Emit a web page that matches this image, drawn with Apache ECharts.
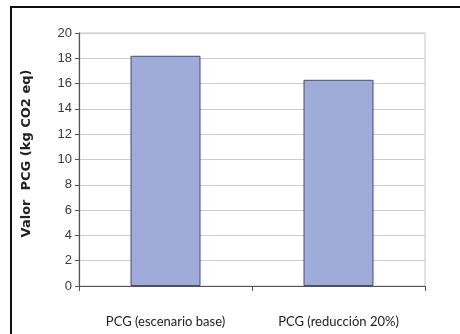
<!DOCTYPE html>
<html>
<head>
<meta charset="utf-8">
<script src="https://cdn.jsdelivr.net/npm/echarts@6/dist/echarts.min.js"></script>
<style>
html,body{margin:0;padding:0;background:#fff;}
#chart{width:460px;height:334px;}
</style>
</head>
<body>
<div id="chart"></div>
<script>
// Global warming potential per scenario
const categories = ['PCG (escenario base)', 'PCG (reducción 20%)'];
const pcgValues = [18.2, 16.3];
const yTicks = [0, 2, 4, 6, 8, 10, 12, 14, 16, 18, 20];
const yAxisTitle = 'Valor  PCG (kg CO2 eq)';

const chart = echarts.init(document.getElementById('chart'), null, { renderer: 'canvas' });

const option = {
  animation: false,
  backgroundColor: '#ffffff',
  grid: { left: 79, right: 35, top: 33, bottom: 48, containLabel: false,
          show: true, borderColor: '#c4c4c4', borderWidth: 1 },
  graphic: [
    {
      type: 'rect',
      shape: { x: 11, y: 7, width: 470, height: 340 },
      style: { fill: 'none', stroke: '#111', lineWidth: 2 },
      silent: true
    }
  ],
  xAxis: {
    type: 'category',
    data: categories,
    axisLine: { lineStyle: { color: '#555', width: 1.2 } },
    axisTick: { show: true, length: 5, lineStyle: { color: '#555' } },
    axisLabel: {
      color: '#222', fontSize: 13, margin: 29,
      fontFamily: 'Lato, "Open Sans", sans-serif'
    }
  },
  yAxis: {
    type: 'value',
    min: yTicks[0],
    max: yTicks[yTicks.length - 1],
    interval: 2,
    name: yAxisTitle,
    nameLocation: 'middle',
    nameGap: 46,
    nameTextStyle: { fontWeight: 'bold', fontSize: 13, color: '#222',
                     fontFamily: '"DejaVu Sans", Verdana, sans-serif', padding: [0, 0, 0, 12] },
    axisLine: { show: true, lineStyle: { color: '#555', width: 1.2 } },
    axisTick: { show: true, length: 4, lineStyle: { color: '#555' } },
    axisLabel: {
      color: '#3a3a3a', fontSize: 13, margin: 7,
      fontFamily: '"Liberation Sans", Arial, sans-serif'
    },
    splitLine: { lineStyle: { color: '#cdcdcd', width: 1 } }
  },
  series: [
    {
      type: 'bar',
      data: pcgValues,
      barWidth: 70,
      itemStyle: { color: '#9fabd9', borderColor: '#414d85', borderWidth: 1 }
    }
  ]
};

chart.setOption(option);
</script>
</body>
</html>
